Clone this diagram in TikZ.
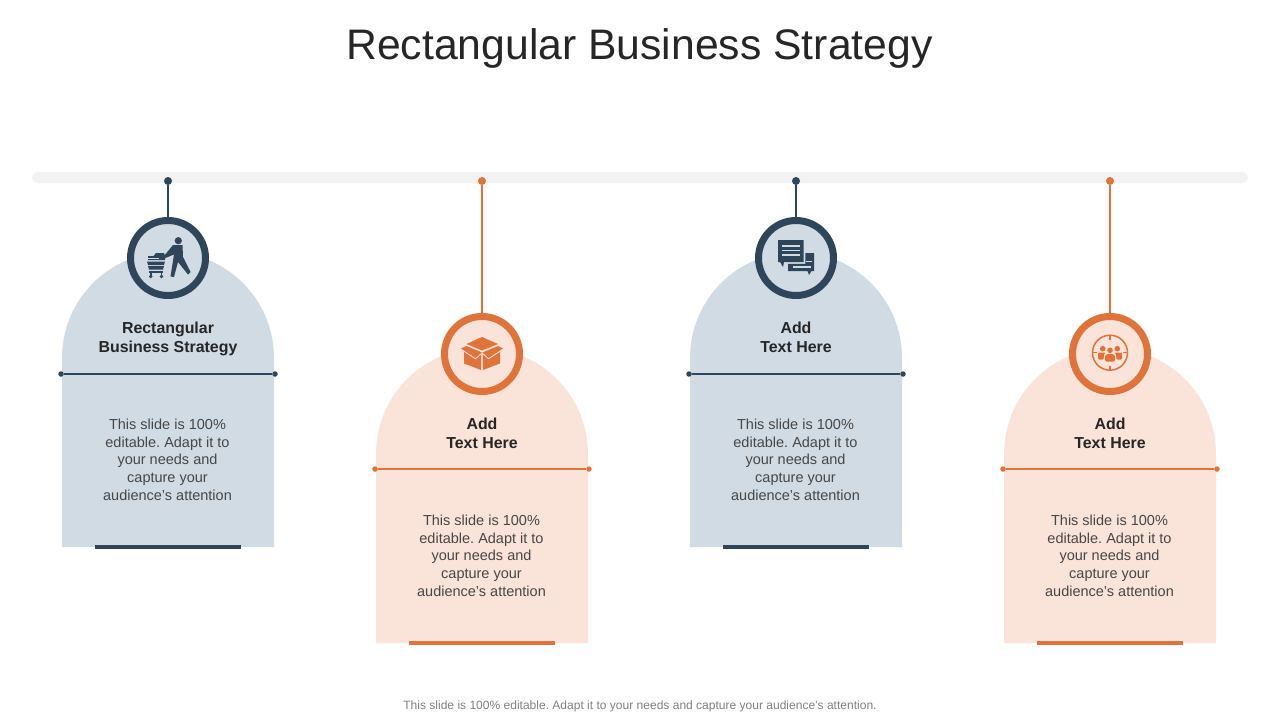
\documentclass[tikz,border=0pt]{standalone}
\usepackage{fontspec}
\setmainfont{Liberation Sans}
\AtBeginDocument{\frenchspacing}
\definecolor{navy}{HTML}{2F4559}
\definecolor{navyfill}{HTML}{D0DBE4}
\definecolor{rust}{HTML}{E0733A}
\definecolor{rustfill}{HTML}{FAE3D8}
\definecolor{railgray}{HTML}{F2F2F2}
\tikzset{
  x=1pt,y=-1pt,
  titletext/.style={font=\fontsize{42.7}{50}\selectfont,text=black!85,inner sep=0pt,anchor=base},
  headtext/.style={font=\fontsize{15.9}{19}\selectfont\bfseries,text=black!85,inner sep=0pt,align=center,anchor=base},
  bodytext/.style={font=\fontsize{14.5}{17.8}\selectfont,text=black!72,inner sep=0pt,align=center,anchor=base},
  foottext/.style={font=\fontsize{12.03}{14}\selectfont,text=black!50,inner sep=0pt,anchor=base},
  rail/.style={fill=railgray,draw=none,rounded corners=5.5pt,minimum width=1216pt,minimum height=11pt,inner sep=0pt},
  enddot/.style={circle,fill=#1,draw=none,minimum size=5.5pt,inner sep=0pt,outer sep=0pt},
  topdot/.style={circle,fill=#1,draw=none,minimum size=8pt,inner sep=0pt,outer sep=0pt},
  ring/.style n args={2}{circle,draw=#1,fill=#2,line width=7pt,minimum size=75pt,inner sep=0pt,outer sep=0pt},
  footbar/.style={fill=#1,draw=none,minimum width=146pt,minimum height=4pt,inner sep=0pt},
  link/.style={draw=#1,line width=2.2pt},
}
\newcommand{\iconcart}[2]{\begin{scope}[shift={(#1,#2)}]
  \fill[navy] (10.3,-17.3) circle[radius=3.6];
  \fill[navy,line join=round] (5,-13) -- (14.5,-13) -- (15,-1) -- (22.5,14) -- (20,16.5) -- (10,4) -- (6,19) -- (2.5,18.5) -- (6,-3.5) -- (-2.5,0) -- (-4,-2) -- cycle;
  % goods in the cart
  \fill[navy] (-14.5,-2) -- (-12,-5) -- (-4,-5) -- (-3,-2) -- (-3,2) -- (-20,2) -- (-20,-2) -- cycle;
  \fill[navyfill] (-20,0) rectangle (-9,0.7);
  % basket
  \fill[navy] (-21,3.5) -- (-3,3.5) -- (-4,7) -- (-20,7) -- cycle;
  \fill[navy] (-20,8) -- (-4,8) -- (-5,11.5) -- (-19,11.5) -- cycle;
  \fill[navy] (-19,13) rectangle (-5,14.5);
  \fill[navy] (-17.8,14) rectangle (-16.4,18);
  \fill[navy] (-7.2,14) rectangle (-5.8,18);
  \fill[navy] (-17.2,18.5) circle[radius=1.9];
  \fill[navy] (-6.5,18.5) circle[radius=1.9];
\end{scope}}
\newcommand{\iconbox}[2]{\begin{scope}[shift={(#1,#2)}]
  \fill[rust] (-15.5,-10) -- (0,-17) -- (16,-10) -- (0,-3.5) -- cycle;
  \fill[rust] (-21,-5.5) -- (-15.5,-8) -- (0,-1.5) -- (-6.5,4) -- cycle;
  \fill[rust] (21,-5.5) -- (16,-8) -- (0.5,-1.5) -- (6.5,4) -- cycle;
  \fill[rust] (-18,-2) -- (-6.5,5.5) -- (-0.8,0.5) -- (-0.8,16) -- (-18,9.5) -- cycle;
  \fill[rust] (18,-2) -- (6.5,5.5) -- (0.8,0.5) -- (0.8,16) -- (18,9.5) -- cycle;
\end{scope}}
\newcommand{\iconchat}[2]{\begin{scope}[shift={(#1,#2)}]
  \fill[navy] (-18,-18) -- (7.5,-18) -- (7.5,4) -- (-12,4) -- (-13,9) -- (-16,4) -- (-18,4) -- cycle;
  \fill[navyfill] (-14,-12.6) rectangle (4,-11.4);
  \fill[navyfill] (-14,-8.1) rectangle (4,-6.9);
  \fill[navyfill] (-14,-3.6) rectangle (4,-2.4);
  \fill[navy] (9.3,-5) -- (18,-5) -- (18,13) -- (15.5,13) -- (13,17) -- (11.5,13) -- (-8,13) -- (-8,5.8) -- (9.3,5.8) -- cycle;
  \fill[navyfill] (-3.5,8.4) rectangle (15,9.6);
  \fill[navyfill] (10,2.6) rectangle (15.5,3.8);
\end{scope}}
\newcommand{\icontarget}[2]{\begin{scope}[shift={(#1,#2)}]
  \draw[rust,line width=1.5pt] (0,-1.3) circle[radius=17.5];
  \foreach \a/\b/\c/\d in {0/-19/0/-14,0/12/0/17,-18/-1.3/-13/-1.3,13/-1.3/18/-1.3}
    \draw[rust,line width=1.5pt] (\a,\b) -- (\c,\d);
  \fill[rust] (-7.3,-5.3) circle[radius=2.8];
  \fill[rust] (0,-3.7) circle[radius=2.8];
  \fill[rust] (7.3,-5.3) circle[radius=2.8];
  \fill[rust,rounded corners=1pt] (-12,-1.5) -- (-4.5,-1.5) -- (-6,0.5) -- (-6.5,5.5) -- (-12,5.5) -- cycle;
  \fill[rust,rounded corners=1pt] (12,-1.5) -- (4.5,-1.5) -- (6,0.5) -- (6.5,5.5) -- (12,5.5) -- cycle;
  \fill[rust,rounded corners=1.5pt] (-4,0) -- (4,0) -- (5.2,3) -- (5.2,7.5) -- (-5.2,7.5) -- (-5.2,3) -- cycle;
\end{scope}}
% name, centre x, vertical offset, dark, light, heading, icon
\newcommand{\pillar}[7]{%
  \fill[#5] (#2-106,#3+547) -- (#2-106,#3+358) arc[start angle=180,end angle=360,radius=106] -- (#2+106,#3+547) -- cycle;
  \node[footbar=#4] (#1foot) at (#2,#3+547) {};
  \node[topdot=#4] (#1top) at (#2,181) {};
  \node[ring={#4}{#5}] (#1ring) at (#2,#3+258) {};
  \draw[link=#4] (#1top) -- (#1ring);
  \node[enddot=#4] (#1left) at (#2-107,#3*0.99+374) {};
  \node[enddot=#4] (#1right) at (#2+107,#3*0.99+374) {};
  \draw[link=#4] (#1left) -- (#1right);
  \node[headtext] (#1head) at (#2,#3+352.5) {#6};
  \node[bodytext] (#1body) at (#2-0.5,#3+500.5) {This slide is 100\%\\editable. Adapt it to\\your needs and\\capture your\\audience's attention};
  #7{#2}{#3+258}
}
\begin{document}
\begin{tikzpicture}
\useasboundingbox (0,0) rectangle (1280,720);
\fill[white] (0,0) rectangle (1280,720);
\node[titletext] (title) at (639.5,59) {Rectangular Business Strategy};
\node[rail] (railbar) at (640,177.5) {};
\pillar{a}{168}{0}{navy}{navyfill}{Rectangular\\Business Strategy}{\iconcart}
\pillar{b}{482}{96}{rust}{rustfill}{Add\\Text Here}{\iconbox}
\pillar{c}{796}{0}{navy}{navyfill}{Add\\Text Here}{\iconchat}
\pillar{d}{1110}{96}{rust}{rustfill}{Add\\Text Here}{\icontarget}
\node[foottext] (foot) at (640,709.5) {This slide is 100\% editable. Adapt it to your needs and capture your audience's attention.};
\end{tikzpicture}
\end{document}
